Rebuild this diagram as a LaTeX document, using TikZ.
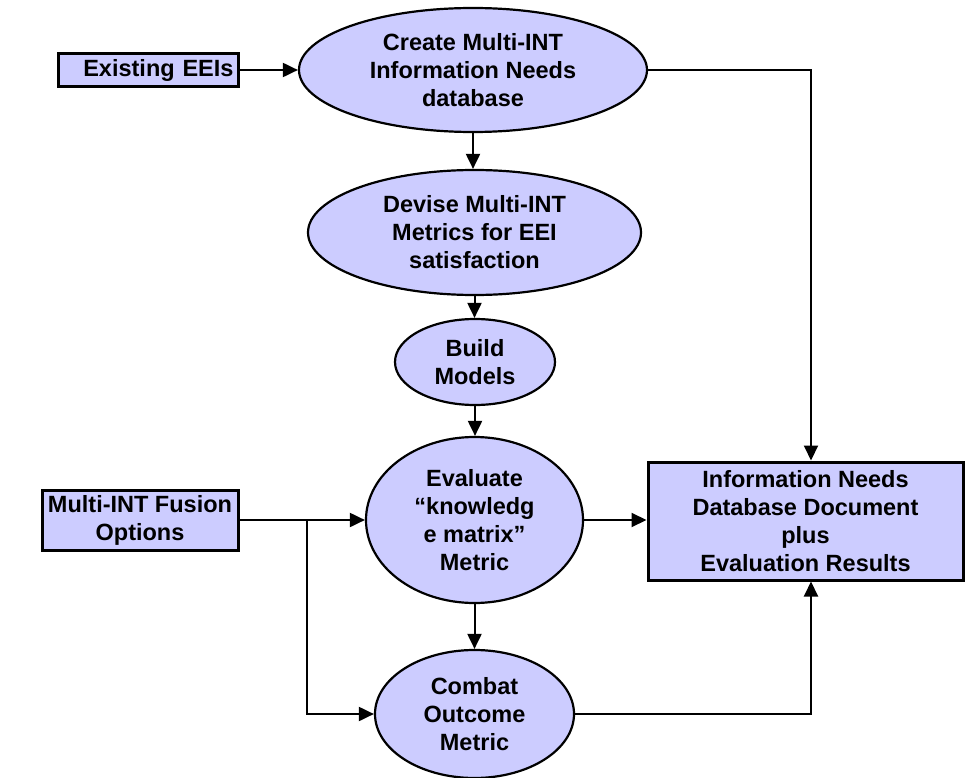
\documentclass[tikz,border=0pt]{standalone}
\usepackage{fontspec}
\setmainfont{Liberation Sans}
\usetikzlibrary{shapes.geometric,arrows.meta}
\definecolor{lav}{HTML}{CCCCFF}
\tikzset{
  lbl/.style={font=\bfseries\fontsize{23.5pt}{28pt}\selectfont, align=center},
  oval/.style={ellipse, draw, line width=2.2pt, fill=lav, inner sep=0pt, lbl},
  rectbox/.style={rectangle, draw, line width=3pt, fill=lav, inner sep=4pt, lbl},
  flow/.style={line width=2pt, -{Triangle[length=15pt,width=14pt]}},
}
\begin{document}
\begin{tikzpicture}[x=1pt, y=-1pt]
  \useasboundingbox (0,0) rectangle (966,778);

  % process ellipses
  \node[oval, minimum width=348pt, minimum height=124pt] (create) at (473,70)
    {Create Multi-INT\\Information Needs\\database};
  \node[oval, minimum width=333pt, minimum height=125pt] (devise) at (474.5,232.5)
    {Devise Multi-INT\\Metrics for EEI\\satisfaction};
  \node[oval, minimum width=160pt, minimum height=86pt] (build) at (475,362)
    {Build\\Models};
  \node[oval, minimum width=217pt, minimum height=166pt] (eval) at (474.5,520)
    {Evaluate\\“knowledg\\e matrix”\\Metric};
  \node[oval, minimum width=199pt, minimum height=128pt] (combat) at (474.5,714)
    {Combat\\Outcome\\Metric};

  % input and output boxes
  \node[rectbox, minimum width=180pt, minimum height=33pt, text width=171pt, align=right] (eeis) at (148,70)
    {Existing EEIs};
  \node[rectbox, minimum width=196pt, minimum height=60pt] (fusion) at (140,520)
    {Multi-INT Fusion\\Options};
  \node[rectbox, minimum width=315pt, minimum height=118pt] (results) at (805.5,521)
    {Information Needs\\Database Document\\plus\\Evaluation Results};

  \coordinate (split) at (307,520);

  % connectors
  \draw[flow] (eeis.east) -- (create.west);
  \draw[flow] (create.east) -| ([xshift=5.5pt]results.north);
  \draw[flow] (create.south) -- (create.south |- devise.north);
  \draw[flow] (devise.south) -- (devise.south |- build.north);
  \draw[flow] (build.south) -- (build.south |- eval.north);
  \draw[flow] (fusion.east) -- (eval.west);
  \draw[flow] (split) |- (combat.west);
  \draw[flow] (eval.east) -- (eval.east -| results.west);
  \draw[flow] (eval.south) -- (combat.north);
  \draw[flow] (combat.east) -| ([xshift=5.5pt]results.south);
\end{tikzpicture}
\end{document}
